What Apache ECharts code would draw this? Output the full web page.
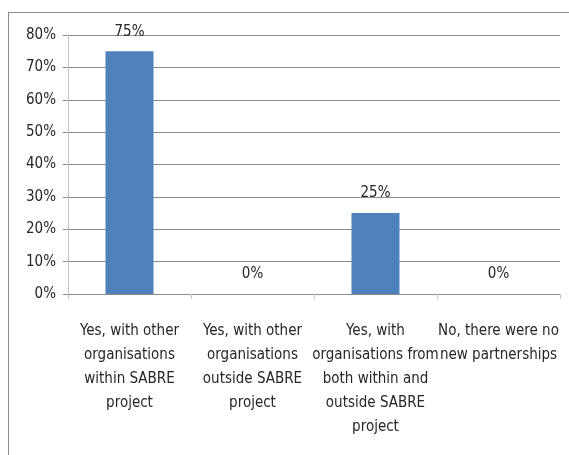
<!doctype html>
<html lang="en">
<head>
    <meta charset="utf-8" />
    <title>New partnerships</title>
    <script src="https://cdn.jsdelivr.net/npm/echarts@6/dist/echarts.min.js"></script>
    <style>
        html, body { margin: 0; padding: 0; background: #fff; }
        #chart { width: 569px; height: 455px; }
    </style>
</head>
<body>
<div id="chart"></div>
<script>
    // data
    var categories = [
        'Yes, with other\norganisations\nwithin SABRE\nproject',
        'Yes, with other\norganisations\noutside SABRE\nproject',
        'Yes, with\norganisations from\nboth within and\noutside SABRE\nproject',
        'No, there were no\nnew partnerships'
    ];
    var shares = [75, 0, 25, 0];
    var yTicks = [0, 10, 20, 30, 40, 50, 60, 70, 80];

    var font = '"Liberation Sans Narrow", "DejaVu Sans Condensed", sans-serif';
    var gray = '#8c8c8c';
    var lightGray = '#c4c4c4';

    var chart = echarts.init(document.getElementById('chart'));
    var option = {
        animation: false,
        textStyle: { fontFamily: font },
        grid: { left: 68, right: 9, top: 35, bottom: 161 },
        graphic: [
            { type: 'line', shape: { x1: 8.5, y1: 12, x2: 8.5, y2: 455 }, style: { stroke: gray, lineWidth: 1 } },
            { type: 'line', shape: { x1: 8, y1: 12.5, x2: 569, y2: 12.5 }, style: { stroke: gray, lineWidth: 1 } }
        ],
        xAxis: {
            type: 'category',
            data: categories,
            axisLine: { lineStyle: { color: gray } },
            axisTick: { show: true, length: 5, lineStyle: { color: lightGray } },
            axisLabel: {
                interval: 0,
                margin: 25,
                color: '#262626',
                fontSize: 15,
                lineHeight: 24,
                fontFamily: font
            }
        },
        yAxis: {
            type: 'value',
            min: yTicks[0],
            max: yTicks[yTicks.length - 1],
            interval: 10,
            axisLine: { show: true, lineStyle: { color: lightGray } },
            axisTick: { show: true, length: 5, lineStyle: { color: gray } },
            splitLine: { lineStyle: { color: gray } },
            axisLabel: {
                formatter: '{value}%',
                color: '#262626',
                fontSize: 15,
                margin: 12,
                fontFamily: font
            }
        },
        series: [{
            type: 'bar',
            data: shares,
            barWidth: 48,
            itemStyle: { color: '#4f81bd' },
            label: {
                show: true,
                position: 'top',
                distance: 12,
                formatter: '{c}%',
                color: '#262626',
                fontSize: 15,
                fontFamily: font
            }
        }]
    };
    chart.setOption(option);
</script>
</body>
</html>
